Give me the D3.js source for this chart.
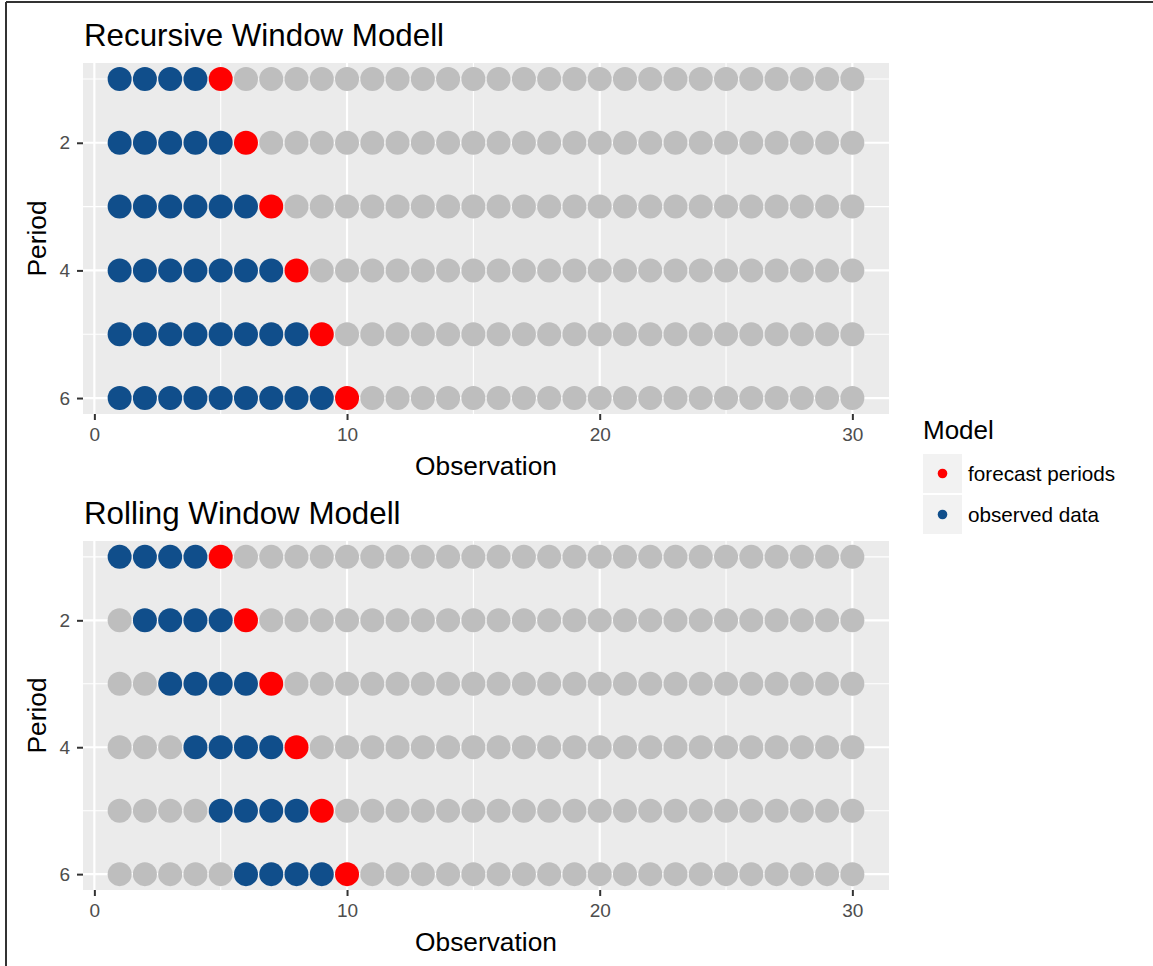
<!DOCTYPE html>
<meta charset="utf-8">
<script src="https://d3js.org/d3.v7.min.js"></script>
<style>
  body { margin: 0; background: #fff; }
  text { font-family: "Liberation Sans", Arial, sans-serif; }
</style>
<div id="chart"></div>
<script>

// observations on the x axis
var observations = [1,2,3,4,5,6,7,8,9,10,11,12,13,14,15,16,17,18,19,20,21,22,23,24,25,26,27,28,29,30];
var periods = [1, 2, 3, 4, 5, 6];
// first observed point per period, for each model
var recursiveStart = [1, 1, 1, 1, 1, 1];
var rollingStart = [1, 2, 3, 4, 5, 6];
// last observed point and forecast point per period
var observedEnd = [4, 5, 6, 7, 8, 9];
var forecastObs = [5, 6, 7, 8, 9, 10];

var xTicks = [0, 10, 20, 30];
var yTicks = [2, 4, 6];
var legendLabels = ["forecast periods", "observed data"];

var colours = {forecast: "#FF0000", observed: "#104E8B", other: "#BEBEBE"};

// build a long table: one row per period x observation
function buildRows(starts) {
  var rows = [];
  periods.forEach(function(p, i) {
    observations.forEach(function(o) {
      var type = "other";
      if (o >= starts[i] && o <= observedEnd[i]) type = "observed";
      if (o == forecastObs[i]) type = "forecast";
      rows.push({period: p, obs: o, type: type});
    });
  });
  return rows;
}

var W = 1153, H = 966;
var svg = d3.select("#chart").append("svg")
  .attr("width", W).attr("height", H);

// outer frame
svg.append("line").attr("x1", 6).attr("x2", W).attr("y1", 2).attr("y2", 2)
  .attr("stroke", "#333").attr("stroke-width", 2);
svg.append("line").attr("x1", 6).attr("x2", 6).attr("y1", 2).attr("y2", H)
  .attr("stroke", "#333").attr("stroke-width", 2);

var x = d3.scaleLinear().domain([-0.45, 31.45]).range([83, 889]);

function drawPanel(title, rows, top, bottom) {
  var y = d3.scaleLinear().domain([0.75, 6.25]).range([top, bottom]);
  var g = svg.append("g");

  g.append("rect")
    .attr("x", x.range()[0]).attr("y", top)
    .attr("width", x.range()[1] - x.range()[0]).attr("height", bottom - top)
    .attr("fill", "#EBEBEB");

  // minor grid
  g.selectAll(".xminor").data([5, 15, 25]).enter().append("line")
    .attr("x1", function(d) { return x(d); }).attr("x2", function(d) { return x(d); })
    .attr("y1", top).attr("y2", bottom)
    .attr("stroke", "#fff").attr("stroke-width", 1.1);
  g.selectAll(".yminor").data([1, 3, 5]).enter().append("line")
    .attr("y1", function(d) { return y(d); }).attr("y2", function(d) { return y(d); })
    .attr("x1", x.range()[0]).attr("x2", x.range()[1])
    .attr("stroke", "#fff").attr("stroke-width", 1.1);
  // major grid
  g.selectAll(".xmajor").data(xTicks).enter().append("line")
    .attr("x1", function(d) { return x(d); }).attr("x2", function(d) { return x(d); })
    .attr("y1", top).attr("y2", bottom)
    .attr("stroke", "#fff").attr("stroke-width", 2.2);
  g.selectAll(".ymajor").data(yTicks).enter().append("line")
    .attr("y1", function(d) { return y(d); }).attr("y2", function(d) { return y(d); })
    .attr("x1", x.range()[0]).attr("x2", x.range()[1])
    .attr("stroke", "#fff").attr("stroke-width", 2.2);

  // points
  g.selectAll("circle").data(rows).enter().append("circle")
    .attr("cx", function(d) { return x(d.obs); })
    .attr("cy", function(d) { return y(d.period); })
    .attr("r", 12)
    .attr("fill", function(d) { return colours[d.type]; });

  // axes
  var xa = g.append("g").attr("transform", "translate(0," + bottom + ")")
    .call(d3.axisBottom(x).tickValues(xTicks).tickFormat(d3.format("d"))
      .tickSize(6).tickPadding(8));
  var ya = g.append("g").attr("transform", "translate(" + x.range()[0] + ",0)")
    .call(d3.axisLeft(y).tickValues(yTicks).tickFormat(d3.format("d"))
      .tickSize(6).tickPadding(7));
  [xa, ya].forEach(function(a) {
    a.attr("font-size", null).attr("font-family", null);
    a.select(".domain").remove();
    a.selectAll(".tick line").attr("stroke", "#333").attr("stroke-width", 2);
    a.selectAll(".tick text").attr("fill", "#4D4D4D")
      .style("font-size", "19px");
  });

  g.append("text").attr("x", 84).attr("y", top - 17)
    .style("font-size", "31.3px").text(title);
  g.append("text").attr("x", (x.range()[0] + x.range()[1]) / 2).attr("y", bottom + 61)
    .attr("text-anchor", "middle").style("font-size", "26.3px").text("Observation");
  g.append("text")
    .attr("transform", "translate(46," + (top + bottom) / 2 + ") rotate(-90)")
    .attr("text-anchor", "middle").style("font-size", "26.3px").text("Period");
}

drawPanel("Recursive Window Modell", buildRows(recursiveStart), 63, 414);
drawPanel("Rolling Window Modell", buildRows(rollingStart), 541, 890);

// legend
var lg = svg.append("g").attr("transform", "translate(923,0)");
lg.append("text").attr("x", 0).attr("y", 439).style("font-size", "26px").text("Model");
var keyColours = [colours.forecast, colours.observed];
legendLabels.forEach(function(lab, i) {
  var ky = 454 + i * 41;
  lg.append("rect").attr("x", 0).attr("y", ky).attr("width", 39).attr("height", 39)
    .attr("fill", "#F2F2F2");
  lg.append("circle").attr("cx", 19.5).attr("cy", ky + 19.5).attr("r", 4.8)
    .attr("fill", keyColours[i]);
  lg.append("text").attr("x", 45).attr("y", ky + 27).style("font-size", "20.7px").text(lab);
});

</script>
